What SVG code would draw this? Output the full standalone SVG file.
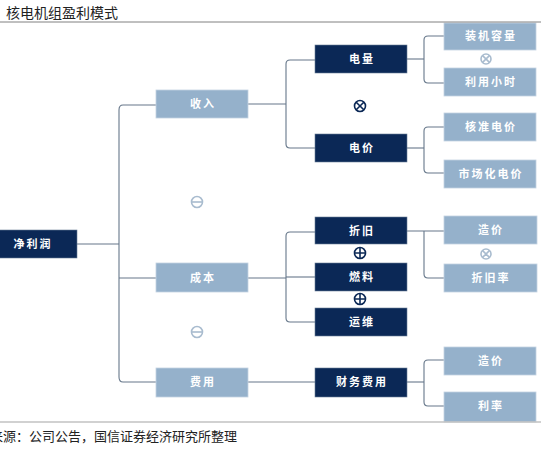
<svg xmlns="http://www.w3.org/2000/svg" width="541" height="457" viewBox="0 0 541 457">
<style>
.dk{fill:#0b2856;stroke:#6a7d96;stroke-width:0.6}
.lt{fill:#95b1cb;stroke:#c4d3e2;stroke-width:0.8}
.bt{font-family:"Noto Sans CJK SC","Noto Sans CJK TC",sans-serif;font-size:11px;font-weight:bold;fill:#ffffff;text-anchor:middle;letter-spacing:2px}
.cn{fill:none;stroke:#66778a;stroke-width:1.1}
.sym{fill:none;stroke-width:1.6}
</style>
<rect width="541" height="457" fill="#ffffff"/>
<text x="6" y="18" font-family="Noto Sans CJK SC, sans-serif" font-size="14" fill="#222">核电机组盈利模式</text>

<g id="connectors">
<path class="cn" d="M77 244H119"/>
<path class="cn" d="M156 105H123Q119 105 119 110V377Q119 382 123 382H156"/>
<path class="cn" d="M119 278H156"/>
<path class="cn" d="M248 104H286"/>
<path class="cn" d="M315 60H290Q286 60 286 64V144Q286 148 290 148H315"/>
<path class="cn" d="M407 59H424"/>
<path class="cn" d="M444 36H428Q424 36 424 40V79Q424 83 428 83H444"/>
<path class="cn" d="M407 148H424"/>
<path class="cn" d="M444 127H428Q424 127 424 131V169Q424 173 428 173H444"/>
<path class="cn" d="M248 278H286"/>
<path class="cn" d="M315 232H290Q286 232 286 236V318Q286 322 290 322H315"/>
<path class="cn" d="M286 277H315"/>
<path class="cn" d="M407 231H444"/>
<path class="cn" d="M424 231V274Q424 278 428 278H444"/>
<path class="cn" d="M248 382H315"/>
<path class="cn" d="M407 382H424"/>
<path class="cn" d="M444 360H428Q424 360 424 364V402Q424 406 428 406H444"/>
</g>

<g id="n-jlr"><rect class="dk" x="-2" y="230" width="79" height="28"/><text class="bt" x="33" y="248">净利润</text></g>
<g id="n-sr"><rect class="lt" x="156" y="90" width="92" height="28"/><text class="bt" x="203" y="108">收入</text></g>
<g id="n-cb"><rect class="lt" x="156" y="263" width="92" height="29"/><text class="bt" x="203" y="282">成本</text></g>
<g id="n-fy"><rect class="lt" x="156" y="368" width="92" height="29"/><text class="bt" x="203" y="386">费用</text></g>

<g id="n-dl"><rect class="dk" x="315" y="45" width="92" height="28"/><text class="bt" x="362" y="63">电量</text></g>
<g id="n-dj"><rect class="dk" x="315" y="134" width="92" height="28"/><text class="bt" x="362" y="152">电价</text></g>
<g id="n-zj"><rect class="dk" x="315" y="217" width="92" height="27"/><text class="bt" x="362" y="235">折旧</text></g>
<g id="n-rl"><rect class="dk" x="315" y="263" width="92" height="28"/><text class="bt" x="362" y="281">燃料</text></g>
<g id="n-yw"><rect class="dk" x="315" y="308" width="92" height="28"/><text class="bt" x="362" y="326">运维</text></g>
<g id="n-cwfy"><rect class="dk" x="315" y="368" width="92" height="29"/><text class="bt" x="362" y="386">财务费用</text></g>

<g id="n-zjrl"><rect class="lt" x="444" y="23" width="92" height="27"/><text class="bt" x="491" y="40">装机容量</text></g>
<g id="n-lyxs"><rect class="lt" x="444" y="68" width="92" height="28"/><text class="bt" x="491" y="86">利用小时</text></g>
<g id="n-hzdj"><rect class="lt" x="444" y="113" width="92" height="28"/><text class="bt" x="491" y="131">核准电价</text></g>
<g id="n-schdj"><rect class="lt" x="444" y="160" width="92" height="28"/><text class="bt" x="491" y="178">市场化电价</text></g>
<g id="n-zaojia1"><rect class="lt" x="444" y="216" width="93" height="28"/><text class="bt" x="491" y="234">造价</text></g>
<g id="n-zjl"><rect class="lt" x="444" y="264" width="93" height="28"/><text class="bt" x="491" y="282">折旧率</text></g>
<g id="n-zaojia2"><rect class="lt" x="444" y="347" width="92" height="28"/><text class="bt" x="491" y="365">造价</text></g>
<g id="n-ll"><rect class="lt" x="444" y="392" width="92" height="30"/><text class="bt" x="491" y="410">利率</text></g>

<g id="symbols">
<g class="sym" stroke="#0b2856"><circle cx="360" cy="106" r="5.5"/><path d="M356.2 102.2L363.8 109.8M363.8 102.2L356.2 109.8"/></g>
<g class="sym" stroke="#a9bccf" stroke-width="1.3"><circle cx="486" cy="59" r="5"/><path d="M482.6 55.6L489.4 62.4M489.4 55.6L482.6 62.4"/></g>
<g class="sym" stroke="#a9bccf" stroke-width="1.3"><circle cx="486" cy="254" r="5"/><path d="M482.6 250.6L489.4 257.4M489.4 250.6L482.6 257.4"/></g>
<g class="sym" stroke="#0b2856"><circle cx="360" cy="253" r="5.5"/><path d="M354.5 253H365.5M360 247.5V258.5"/></g>
<g class="sym" stroke="#0b2856"><circle cx="360" cy="299" r="5.5"/><path d="M354.5 299H365.5M360 293.5V304.5"/></g>
<g class="sym" stroke="#a9bccf" stroke-width="1.4"><circle cx="197" cy="202" r="5.5"/><path d="M191.5 202H202.5"/></g>
<g class="sym" stroke="#a9bccf" stroke-width="1.4"><circle cx="197" cy="332" r="5.5"/><path d="M191.5 332H202.5"/></g>
</g>

<line x1="0" y1="22" x2="541" y2="22" stroke="#808080" stroke-width="1"/>
<line x1="0" y1="422" x2="541" y2="422" stroke="#c2c2c2" stroke-width="1.5"/>
<text x="-10" y="441" font-family="Noto Sans CJK SC, sans-serif" font-size="13" fill="#222">来源：公司公告，国信证券经济研究所整理</text>
</svg>
